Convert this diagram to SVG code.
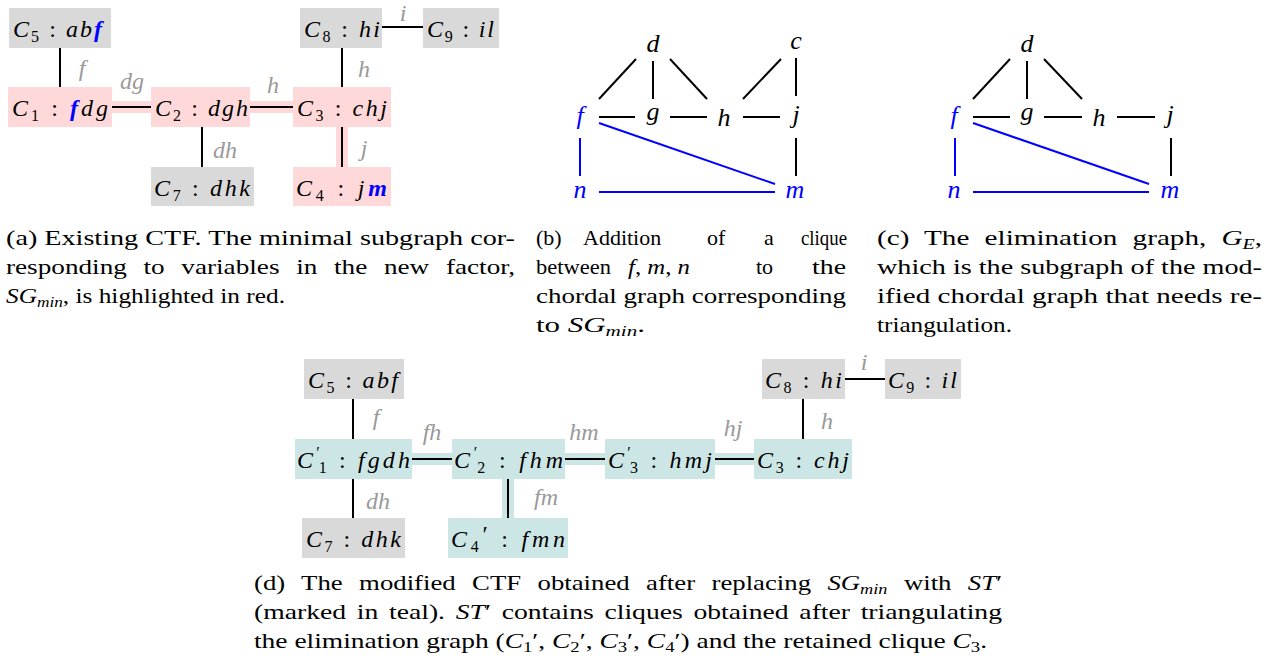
<svg xmlns="http://www.w3.org/2000/svg" width="1268" height="665" viewBox="0 0 1268 665">
<style>
.m{font-family:'Liberation Serif','Times New Roman',Tinos,'DejaVu Serif',serif;font-size:24px;fill:#000}
.i{font-style:italic}
.s{font-size:16px}
.bf{font-weight:bold;font-style:italic;fill:#0000ff}
.gray{fill:#d9d9d9}.pink{fill:#ffd9d9}.teal{fill:#cce6e6}
.e{stroke:#000;stroke-width:2;fill:none}
.eb{stroke:#0000ff;stroke-width:2;fill:none}
.lbl{font-family:'Liberation Serif','Times New Roman',Tinos,'DejaVu Serif',serif;font-style:italic;font-size:24px;fill:#999;text-anchor:middle}
.v{font-family:'Liberation Serif','Times New Roman',Tinos,'DejaVu Serif',serif;font-style:italic;font-size:26px;fill:#000;text-anchor:middle}
.vb{fill:#0000ff}
.cap{font-family:'Liberation Serif','Times New Roman',Tinos,'DejaVu Serif',serif;font-size:22px;fill:#000}
.cs{font-size:15px;font-style:italic}
.cn{font-size:15px;font-style:normal}
</style>
<rect width="1268" height="665" fill="#fff"/>

<!-- ===== (a) ===== -->
<g id="a-connectors">
<rect class="pink" x="112" y="101" width="39" height="12"/>
<rect class="pink" x="250" y="101" width="43" height="12"/>
<rect class="pink" x="336" y="127" width="12" height="40"/>
<line class="e" x1="60" y1="48" x2="60" y2="87"/>
<line class="e" x1="112" y1="107" x2="151" y2="107"/>
<line class="e" x1="250" y1="107" x2="293" y2="107"/>
<line class="e" x1="202" y1="127" x2="202" y2="167"/>
<line class="e" x1="342" y1="48" x2="342" y2="87"/>
<line class="e" x1="342" y1="127" x2="342" y2="167"/>
<line class="e" x1="382" y1="27" x2="423" y2="27"/>
<text class="lbl" x="82" y="76">f</text>
<text class="lbl" x="132" y="89">dg</text>
<text class="lbl" x="273" y="93">h</text>
<text class="lbl" x="364" y="77">h</text>
<text class="lbl" x="225" y="158">dh</text>
<text class="lbl" x="364" y="156">j</text>
<text class="lbl" x="403" y="21">i</text>
</g>
<g id="a-C5"><rect class="gray" x="9" y="8" width="102" height="40"/>
<text class="m" x="13" y="37" textLength="89"><tspan class="i">C</tspan><tspan class="s" dy="5">5</tspan><tspan dy="-5"> : </tspan><tspan class="i">ab</tspan><tspan class="bf">f</tspan></text></g>
<g id="a-C1"><rect class="pink" x="8" y="87" width="104" height="40"/>
<text class="m" x="12" y="116" textLength="96"><tspan class="i">C</tspan><tspan class="s" dy="5">1</tspan><tspan dy="-5"> : </tspan><tspan class="bf">f</tspan><tspan class="i">dg</tspan></text></g>
<g id="a-C2"><rect class="pink" x="151" y="87" width="99" height="40"/>
<text class="m" x="155" y="116" textLength="93"><tspan class="i">C</tspan><tspan class="s" dy="5">2</tspan><tspan dy="-5"> : </tspan><tspan class="i">dgh</tspan></text></g>
<g id="a-C3"><rect class="pink" x="293" y="87" width="98" height="40"/>
<text class="m" x="297" y="116" textLength="90"><tspan class="i">C</tspan><tspan class="s" dy="5">3</tspan><tspan dy="-5"> : </tspan><tspan class="i">chj</tspan></text></g>
<g id="a-C7"><rect class="gray" x="151" y="167" width="103" height="39"/>
<text class="m" x="154" y="196" textLength="96"><tspan class="i">C</tspan><tspan class="s" dy="5">7</tspan><tspan dy="-5"> : </tspan><tspan class="i">dhk</tspan></text></g>
<g id="a-C4"><rect class="pink" x="293" y="167" width="98" height="39"/>
<text class="m" x="296" y="196" textLength="91"><tspan class="i">C</tspan><tspan class="s" dy="5">4</tspan><tspan dy="-5"> : </tspan><tspan class="i">j</tspan><tspan class="bf">m</tspan></text></g>
<g id="a-C8"><rect class="gray" x="300" y="8" width="82" height="40"/>
<text class="m" x="304" y="37" textLength="76"><tspan class="i">C</tspan><tspan class="s" dy="5">8</tspan><tspan dy="-5"> : </tspan><tspan class="i">hi</tspan></text></g>
<g id="a-C9"><rect class="gray" x="423" y="8" width="76" height="40"/>
<text class="m" x="427" y="37" textLength="67"><tspan class="i">C</tspan><tspan class="s" dy="5">9</tspan><tspan dy="-5"> : </tspan><tspan class="i">il</tspan></text></g>

<!-- ===== (b) ===== -->
<g id="b-connectors">
<line class="e" x1="636" y1="59" x2="599" y2="99"/>
<line class="e" x1="653" y1="61" x2="653" y2="99"/>
<line class="e" x1="670" y1="59" x2="707" y2="99"/>
<line class="e" x1="781" y1="59" x2="743" y2="99"/>
<line class="e" x1="796" y1="58" x2="796" y2="96"/>
<line class="e" x1="599" y1="117" x2="635" y2="117"/>
<line class="e" x1="670" y1="117" x2="707" y2="117"/>
<line class="e" x1="743" y1="117" x2="780" y2="117"/>
<line class="e" x1="796" y1="138" x2="796" y2="176"/>
<line class="eb" x1="580" y1="138" x2="580" y2="176"/>
<line class="eb" x1="599" y1="123" x2="775" y2="184"/>
<line class="eb" x1="599" y1="192" x2="775" y2="192"/>
</g>
<g id="b-d"><text class="v" x="653" y="52">d</text></g>
<g id="b-c"><text class="v" x="796" y="49">c</text></g>
<g id="b-f"><text class="v vb" x="580" y="124">f</text></g>
<g id="b-g"><text class="v" x="653" y="120">g</text></g>
<g id="b-h"><text class="v" x="724" y="126">h</text></g>
<g id="b-j"><text class="v" x="796" y="123">j</text></g>
<g id="b-n"><text class="v vb" x="580" y="198">n</text></g>
<g id="b-m"><text class="v vb" x="795" y="198">m</text></g>

<!-- ===== (c) ===== -->
<g id="c-connectors">
<line class="e" x1="1010" y1="59" x2="973" y2="99"/>
<line class="e" x1="1027" y1="61" x2="1027" y2="99"/>
<line class="e" x1="1044" y1="59" x2="1082" y2="99"/>
<line class="e" x1="973" y1="117" x2="1010" y2="117"/>
<line class="e" x1="1044" y1="117" x2="1082" y2="117"/>
<line class="e" x1="1117" y1="117" x2="1155" y2="117"/>
<line class="e" x1="1171" y1="138" x2="1171" y2="176"/>
<line class="eb" x1="955" y1="138" x2="955" y2="176"/>
<line class="eb" x1="973" y1="123" x2="1149" y2="184"/>
<line class="eb" x1="973" y1="192" x2="1149" y2="192"/>
</g>
<g id="c-d"><text class="v" x="1027" y="52">d</text></g>
<g id="c-f"><text class="v vb" x="954" y="124">f</text></g>
<g id="c-g"><text class="v" x="1027" y="120">g</text></g>
<g id="c-h"><text class="v" x="1099" y="126">h</text></g>
<g id="c-j"><text class="v" x="1170" y="123">j</text></g>
<g id="c-n"><text class="v vb" x="954" y="198">n</text></g>
<g id="c-m"><text class="v vb" x="1170" y="198">m</text></g>

<!-- ===== captions a,b,c ===== -->
<g id="caption-a" class="cap">
<text x="6" y="245" textLength="509" lengthAdjust="spacingAndGlyphs">(a) Existing CTF. The minimal subgraph cor-</text>
<text x="6" y="274" textLength="509" lengthAdjust="spacingAndGlyphs" word-spacing="8">responding to variables in the new factor,</text>
<text x="6" y="303" textLength="279" lengthAdjust="spacingAndGlyphs"><tspan font-style="italic">SG</tspan><tspan class="cs" dy="4">min</tspan><tspan dy="-4">, is highlighted in red.</tspan></text>
</g>
<g id="caption-b" class="cap">
<text x="536" y="245">(b)</text><text x="583" y="245">Addition</text><text x="707" y="245">of</text><text x="764" y="245">a</text><text x="801" y="245" textLength="46" lengthAdjust="spacingAndGlyphs">clique</text>
<text x="536" y="274" textLength="75" lengthAdjust="spacingAndGlyphs">between</text><text x="628" y="274" textLength="62" lengthAdjust="spacingAndGlyphs"><tspan font-style="italic">f</tspan>, <tspan font-style="italic">m</tspan>, <tspan font-style="italic">n</tspan></text><text x="756" y="274">to</text><text x="812" y="274" textLength="34" lengthAdjust="spacingAndGlyphs">the</text>
<text x="536" y="303" textLength="310" lengthAdjust="spacingAndGlyphs">chordal graph corresponding</text>
<text x="536" y="332" textLength="109" lengthAdjust="spacingAndGlyphs">to <tspan font-style="italic">SG</tspan><tspan class="cs" dy="4">min</tspan><tspan dy="-4">.</tspan></text>
</g>
<g id="caption-c" class="cap">
<text x="877" y="245" textLength="385" lengthAdjust="spacingAndGlyphs" word-spacing="6">(c) The elimination graph, <tspan font-style="italic">G</tspan><tspan class="cs" dy="4">E</tspan><tspan dy="-4">,</tspan></text>
<text x="877" y="274" textLength="385" lengthAdjust="spacingAndGlyphs">which is the subgraph of the mod-</text>
<text x="877" y="303" textLength="385" lengthAdjust="spacingAndGlyphs">ified chordal graph that needs re-</text>
<text x="877" y="332" textLength="135" lengthAdjust="spacingAndGlyphs">triangulation.</text>
</g>

<!-- ===== (d) ===== -->
<g id="d-connectors">
<rect class="teal" x="412" y="453" width="40" height="12"/>
<rect class="teal" x="565" y="453" width="40" height="12"/>
<rect class="teal" x="715" y="453" width="39" height="12"/>
<rect class="teal" x="502" y="479" width="12" height="39"/>
<line class="e" x1="353" y1="399" x2="353" y2="439"/>
<line class="e" x1="353" y1="479" x2="353" y2="518"/>
<line class="e" x1="412" y1="459" x2="452" y2="459"/>
<line class="e" x1="565" y1="459" x2="605" y2="459"/>
<line class="e" x1="715" y1="459" x2="754" y2="459"/>
<line class="e" x1="508" y1="479" x2="508" y2="518"/>
<line class="e" x1="803" y1="399" x2="803" y2="439"/>
<line class="e" x1="845" y1="379" x2="885" y2="379"/>
<text class="lbl" x="376" y="425">f</text>
<text class="lbl" x="378" y="509">dh</text>
<text class="lbl" x="432" y="440">fh</text>
<text class="lbl" x="584" y="440">hm</text>
<text class="lbl" x="733" y="436">hj</text>
<text class="lbl" x="546" y="505">fm</text>
<text class="lbl" x="827" y="429">h</text>
<text class="lbl" x="864" y="370">i</text>
</g>
<g id="d-C5"><rect class="gray" x="304" y="359" width="100" height="40"/>
<text class="m" x="308" y="388" textLength="90"><tspan class="i">C</tspan><tspan class="s" dy="5">5</tspan><tspan dy="-5"> : </tspan><tspan class="i">abf</tspan></text></g>
<g id="d-C1p"><rect class="teal" x="295" y="439" width="117" height="40"/>
<text class="m" x="297" y="468" textLength="113"><tspan class="i">C</tspan><tspan class="s" dy="-10">′</tspan><tspan class="s" dx="-4" dy="15">1</tspan><tspan dy="-5"> : </tspan><tspan class="i">fgdh</tspan></text></g>
<g id="d-C2p"><rect class="teal" x="452" y="439" width="113" height="40"/>
<text class="m" x="454" y="468" textLength="109"><tspan class="i">C</tspan><tspan class="s" dy="-10">′</tspan><tspan class="s" dx="-4" dy="15">2</tspan><tspan dy="-5"> : </tspan><tspan class="i">fhm</tspan></text></g>
<g id="d-C3p"><rect class="teal" x="605" y="439" width="110" height="40"/>
<text class="m" x="608" y="468" textLength="104"><tspan class="i">C</tspan><tspan class="s" dy="-10">′</tspan><tspan class="s" dx="-4" dy="15">3</tspan><tspan dy="-5"> : </tspan><tspan class="i">hmj</tspan></text></g>
<g id="d-C3"><rect class="teal" x="754" y="439" width="98" height="40"/>
<text class="m" x="757" y="468" textLength="92"><tspan class="i">C</tspan><tspan class="s" dy="5">3</tspan><tspan dy="-5"> : </tspan><tspan class="i">chj</tspan></text></g>
<g id="d-C8"><rect class="gray" x="762" y="359" width="83" height="40"/>
<text class="m" x="765" y="388" textLength="77"><tspan class="i">C</tspan><tspan class="s" dy="5">8</tspan><tspan dy="-5"> : </tspan><tspan class="i">hi</tspan></text></g>
<g id="d-C9"><rect class="gray" x="885" y="359" width="76" height="40"/>
<text class="m" x="888" y="388" textLength="69"><tspan class="i">C</tspan><tspan class="s" dy="5">9</tspan><tspan dy="-5"> : </tspan><tspan class="i">il</tspan></text></g>
<g id="d-C7"><rect class="gray" x="302" y="518" width="103" height="40"/>
<text class="m" x="306" y="547" textLength="95"><tspan class="i">C</tspan><tspan class="s" dy="5">7</tspan><tspan dy="-5"> : </tspan><tspan class="i">dhk</tspan></text></g>
<g id="d-C4p"><rect class="teal" x="448" y="518" width="120" height="40"/>
<text class="m" x="451" y="547" textLength="114"><tspan class="i">C</tspan><tspan class="s" dy="5">4</tspan><tspan dy="-10">′</tspan><tspan dy="5"> : </tspan><tspan class="i">fmn</tspan></text></g>

<g id="caption-d" class="cap">
<text x="254" y="590" textLength="748" lengthAdjust="spacingAndGlyphs" word-spacing="8">(d) The modified CTF obtained after replacing <tspan font-style="italic">SG</tspan><tspan class="cs" dy="4">min</tspan><tspan dy="-4"> with </tspan><tspan font-style="italic">ST</tspan>′</text>
<text x="254" y="619" textLength="748" lengthAdjust="spacingAndGlyphs" word-spacing="3">(marked in teal).  <tspan font-style="italic">ST</tspan>′ contains cliques obtained after triangulating</text>
<text x="254" y="648" textLength="733" lengthAdjust="spacingAndGlyphs">the elimination graph (<tspan font-style="italic">C</tspan><tspan class="cn" dy="4">1</tspan><tspan dy="-4">′, </tspan><tspan font-style="italic">C</tspan><tspan class="cn" dy="4">2</tspan><tspan dy="-4">′, </tspan><tspan font-style="italic">C</tspan><tspan class="cn" dy="4">3</tspan><tspan dy="-4">′, </tspan><tspan font-style="italic">C</tspan><tspan class="cn" dy="4">4</tspan><tspan dy="-4">′) and the retained clique </tspan><tspan font-style="italic">C</tspan><tspan class="cn" dy="4">3</tspan><tspan dy="-4">.</tspan></text>
</g>
</svg>
